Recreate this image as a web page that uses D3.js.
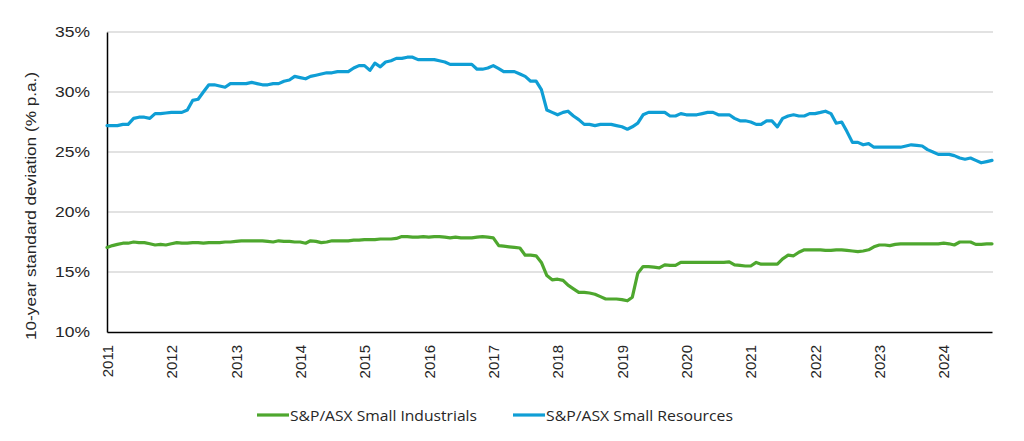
<!DOCTYPE html>
<html>
<head>
<meta charset="utf-8">
<script src="https://cdn.jsdelivr.net/npm/d3@7"></script>
<style>
  html, body { margin: 0; padding: 0; background: #fff; }
  svg { display: block; }
</style>
</head>
<body>
<svg id="chart" width="1024" height="441"></svg>
<script>
// ---- Data (monthly, Jan 2011 – Oct 2024) ----
const startMonth = "2011-01";
const seriesNames = ["S&P/ASX Small Industrials", "S&P/ASX Small Resources"];
const seriesColors = ["#4EA72E", "#0F9ED5"];

const smallIndustrials = [
  17.05,17.2,17.3,17.4,17.4,17.5,17.45,17.45,17.35,17.25,17.3,17.25,
  17.35,17.45,17.4,17.4,17.45,17.45,17.4,17.45,17.45,17.45,17.5,17.5,
  17.55,17.6,17.6,17.6,17.6,17.6,17.55,17.5,17.6,17.55,17.55,17.5,
  17.5,17.4,17.6,17.55,17.45,17.5,17.6,17.6,17.6,17.6,17.65,17.65,
  17.7,17.7,17.7,17.75,17.75,17.75,17.8,17.95,17.95,17.9,17.9,17.95,
  17.9,17.95,17.95,17.9,17.85,17.9,17.85,17.85,17.85,17.9,17.95,17.9,
  17.85,17.2,17.15,17.1,17.05,17.0,16.4,16.4,16.35,15.8,14.7,14.35,
  14.4,14.3,13.9,13.6,13.3,13.3,13.25,13.15,12.95,12.75,12.75,12.75,
  12.7,12.6,12.9,14.9,15.45,15.45,15.4,15.35,15.6,15.55,15.55,15.8,
  15.8,15.8,15.8,15.8,15.8,15.8,15.8,15.8,15.85,15.6,15.55,15.5,
  15.5,15.8,15.65,15.65,15.65,15.65,16.1,16.4,16.35,16.65,16.85,16.85,
  16.85,16.85,16.8,16.8,16.85,16.85,16.8,16.75,16.7,16.75,16.85,17.1,
  17.25,17.25,17.2,17.3,17.35,17.35,17.35,17.35,17.35,17.35,17.35,17.35,
  17.4,17.35,17.25,17.5,17.5,17.5,17.3,17.3,17.35,17.35
];

const smallResources = [
  27.2,27.2,27.2,27.3,27.3,27.8,27.9,27.9,27.8,28.2,28.2,28.25,
  28.3,28.3,28.3,28.5,29.3,29.4,30.0,30.6,30.6,30.5,30.4,30.7,
  30.7,30.7,30.7,30.8,30.7,30.6,30.6,30.7,30.7,30.9,31.0,31.3,
  31.2,31.1,31.3,31.4,31.5,31.6,31.6,31.7,31.7,31.7,32.0,32.2,
  32.2,31.8,32.4,32.1,32.5,32.6,32.8,32.8,32.9,32.9,32.7,32.7,
  32.7,32.7,32.6,32.5,32.3,32.3,32.3,32.3,32.3,31.9,31.9,32.0,
  32.2,31.95,31.7,31.7,31.7,31.5,31.3,30.9,30.9,30.2,28.5,28.3,
  28.1,28.3,28.4,28.0,27.7,27.3,27.3,27.2,27.3,27.3,27.3,27.2,
  27.1,26.9,27.1,27.4,28.1,28.3,28.3,28.3,28.3,28.0,28.0,28.2,
  28.1,28.1,28.1,28.2,28.3,28.3,28.1,28.1,28.1,27.8,27.6,27.6,
  27.5,27.3,27.3,27.6,27.6,27.1,27.8,28.0,28.1,28.0,28.0,28.2,
  28.2,28.3,28.4,28.2,27.4,27.5,26.7,25.8,25.8,25.6,25.7,25.4,
  25.4,25.4,25.4,25.4,25.4,25.5,25.6,25.55,25.5,25.2,25.0,24.8,
  24.8,24.8,24.7,24.5,24.4,24.5,24.3,24.1,24.2,24.3
];

const yTicks = [10, 15, 20, 25, 30, 35];
const xTickYears = [2011,2012,2013,2014,2015,2016,2017,2018,2019,2020,2021,2022,2023,2024];
const yAxisTitle = "10-year standard deviation (% p.a.)";

// ---- Layout ----
const svg = d3.select("#chart");
const mLeft = 107, mRight = 992, mTop = 32, mBottom = 332;

const parseMonth = d3.timeParse("%Y-%m");
const start = parseMonth(startMonth);
const dates = smallIndustrials.map((_, i) => d3.timeMonth.offset(start, i));

const x = d3.scaleTime()
  .domain([start, dates[dates.length - 1]])
  .range([mLeft, mRight]);
const y = d3.scaleLinear().domain([10, 35]).range([mBottom, mTop]);

const font = "'Liberation Sans', Arial, sans-serif";
const textColor = "#262626";

// gridlines
svg.append("g")
  .selectAll("line")
  .data(yTicks.filter(t => t !== 10))
  .join("line")
  .attr("x1", mLeft).attr("x2", mRight + 1)
  .attr("y1", d => y(d)).attr("y2", d => y(d))
  .attr("stroke", "#d9d9d9").attr("stroke-width", 1.3);

// y axis
const yAxis = svg.append("g")
  .attr("transform", `translate(${mLeft},0)`)
  .call(d3.axisLeft(y).tickValues(yTicks).tickSize(0).tickPadding(17).tickFormat(d => d + "%"));
yAxis.select(".domain").attr("stroke", "#000").attr("stroke-width", 1.5);
yAxis.selectAll("text")
  .attr("font-family", font).attr("font-size", 15).attr("fill", textColor)
  .attr("textLength", 35).attr("lengthAdjust", "spacingAndGlyphs");

// x axis
const xAxis = svg.append("g")
  .attr("transform", `translate(0,${mBottom})`)
  .call(d3.axisBottom(x)
    .tickValues(xTickYears.map(yr => new Date(yr, 0, 1)))
    .tickSize(0)
    .tickFormat(d3.timeFormat("%Y")));
xAxis.select(".domain").attr("stroke", "#000").attr("stroke-width", 1.5);
xAxis.selectAll("text")
  .attr("font-family", font).attr("font-size", 15).attr("fill", textColor)
  .attr("text-anchor", "end")
  .attr("transform", "rotate(-90)")
  .attr("x", -13).attr("y", 0).attr("dy", "0.35em");

// y axis title
svg.append("text")
  .attr("transform", `translate(36,206) rotate(-90)`)
  .attr("text-anchor", "middle")
  .attr("font-family", font).attr("font-size", 15).attr("fill", textColor)
  .attr("textLength", 268).attr("lengthAdjust", "spacingAndGlyphs")
  .text(yAxisTitle);

// lines
const line = d3.line()
  .x((d, i) => x(dates[i]))
  .y(d => y(d));

[smallIndustrials, smallResources].forEach((s, k) => {
  svg.append("path")
    .datum(s)
    .attr("fill", "none")
    .attr("stroke", seriesColors[k])
    .attr("stroke-width", 3.2)
    .attr("stroke-linejoin", "round")
    .attr("stroke-linecap", "round")
    .attr("d", line);
});

// legend
const legendFont = "'Open Sans', 'Noto Sans', sans-serif";
const legendX = [257, 513];
const legend = svg.append("g");
seriesNames.forEach((name, k) => {
  const g = legend.append("g").attr("transform", `translate(${legendX[k]},415)`);
  g.append("line").attr("x1", 0).attr("x2", 32).attr("y1", 0).attr("y2", 0)
    .attr("stroke", seriesColors[k]).attr("stroke-width", 3.2);
  g.append("text").attr("x", 33).attr("y", 5.5)
    .attr("font-family", legendFont).attr("font-size", 15).attr("fill", textColor)
    .attr("textLength", 187).attr("lengthAdjust", "spacingAndGlyphs")
    .text(name);
});
</script>
</body>
</html>
